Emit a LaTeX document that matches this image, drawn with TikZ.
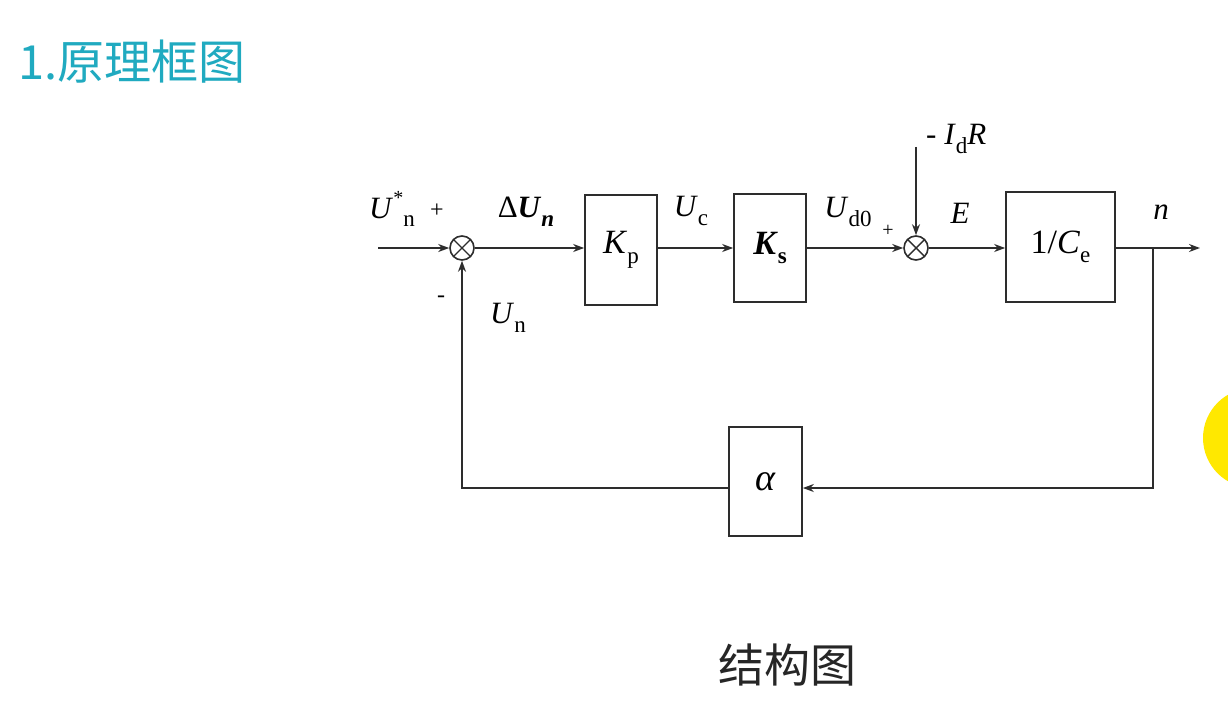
\documentclass[tikz,border=0pt]{standalone}
\usepackage{fontspec}
\setmainfont{Liberation Serif}
\newfontfamily\cjk{Noto Sans CJK SC}
\usetikzlibrary{arrows.meta,calc}
\definecolor{titleteal}{RGB}{32,170,192}
\definecolor{linegray}{RGB}{45,45,45}
\definecolor{dotyellow}{RGB}{255,232,0}
\newcommand\sbx[1]{\raisebox{-0.28em}{\fontsize{23}{26}\selectfont #1}}
\newcommand\spx[1]{\raisebox{0.45em}{\fontsize{20}{24}\selectfont #1}}
\tikzset{
  wire/.style={draw=linegray,line width=1.7pt},
  arr/.style={wire,-{Stealth[length=11pt,width=8pt]}},
  blk/.style={draw=linegray,line width=1.7pt,rectangle,inner sep=0pt,fill=white},
  sum/.style={draw=linegray,line width=1.6pt,circle,minimum size=24pt,inner sep=0pt,
    path picture={\draw[linegray,line width=1.4pt]
      (path picture bounding box.south west)--(path picture bounding box.north east)
      (path picture bounding box.north west)--(path picture bounding box.south east);}},
  lbl/.style={inner sep=0pt,font=\fontsize{31}{36}\selectfont},
  blab/.style={font=\fontsize{34}{40}\selectfont},
  sgn/.style={inner sep=0pt,font=\fontsize{24}{28}\selectfont}
}
\begin{document}
\begin{tikzpicture}[x=1pt,y=-1pt]
\useasboundingbox[fill=white] (0,0) rectangle (1228,714);
\begin{scope}
\clip (0,0) rectangle (1228,714);
\fill[dotyellow] (1253,438) circle (50);
\end{scope}
% title and caption
\node[anchor=west,inner sep=0pt,text=titleteal,font=\cjk\fontsize{47}{52}\selectfont] (title) at (18,62) {1.原理框图};
\node[inner sep=0pt,text=black!85,font=\cjk\fontsize{46}{52}\selectfont] (cap) at (787,665) {结构图};
% blocks
\node[sum] (s1) at (462,248) {};
\node[blk,blab,minimum width=72pt,minimum height=110pt] (kp) at (621,250) {\textit{K}\sbx{p}};
\node[blk,blab,minimum width=72pt,minimum height=108pt] (ks) at (770,248) {\textbf{\textit{K}}\sbx{\textbf{s}}};
\node[sum] (s2) at (916,248) {};
\node[blk,blab,minimum width=109pt,minimum height=110pt] (ce) at (1060.5,247) {1/\textit{C}\sbx{e}};
\node[blk,minimum width=73pt,minimum height=109pt,font=\fontsize{38}{40}\selectfont] (al) at (765.5,481.5) {\textit{α}};
% coordinates
\coordinate (in) at (378,248);
\coordinate (out) at (1200,248);
\coordinate (br) at (1153,248);
\coordinate (fb) at (1153,488);
\coordinate (dist) at (916,147);
% connectors
\draw[arr] (in) -- (s1.west);
\draw[arr] (s1.east) -- (s1.east -| kp.west);
\draw[arr] (kp.east |- s1.east) -- (kp.east |- s1.east -| ks.west);
\draw[arr] (ks.east |- s2.west) -- (s2.west);
\draw[arr] (dist) -- (s2.north);
\draw[arr] (s2.east) -- (s2.east -| ce.west);
\draw[arr] (ce.east |- out) -- (out);
\draw[arr] (br) -- (fb) -- (fb -| al.east);
\draw[arr] (al.west |- fb) -- (s1 |- fb) -- (s1.south);
% labels
\node[lbl] (lUn1) at (392,209) {\textit{U}\spx{*}\sbx{n}};
\node[sgn] (p1) at (437,211) {+};
\node[lbl] (ldU) at (526,212) {Δ\textbf{\textit{U}}\sbx{\textbf{\textit{n}}}};
\node[lbl] (lUc) at (691,211) {\textit{U}\sbx{c}};
\node[lbl] (lUd) at (848,212) {\textit{U}\sbx{d0}};
\node[sgn,font=\fontsize{20}{24}\selectfont] (p2) at (888,231) {+};
\node[lbl,anchor=west] (lId) at (926,139) {- \textit{I}\sbx{d}\textit{R}};
\node[lbl] (lE) at (960,213) {\textit{E}};
\node[lbl] (ln) at (1161,212) {\textit{n}};
\node[sgn] (m1) at (441,299) {-};
\node[lbl] (lUn) at (508,318) {\textit{U}\sbx{n}};
\end{tikzpicture}
\end{document}
